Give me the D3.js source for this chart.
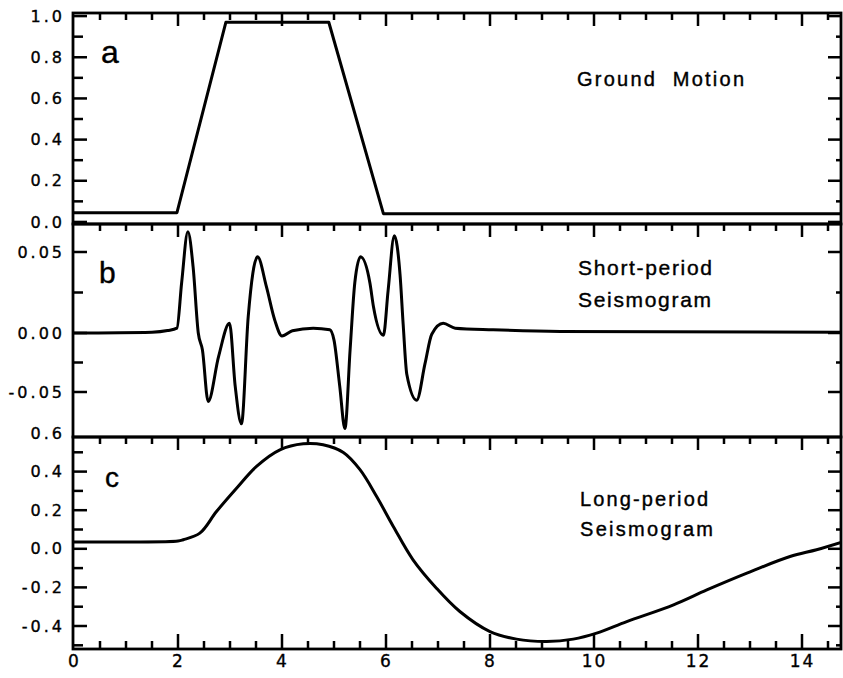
<!DOCTYPE html>
<html>
<head>
<meta charset="utf-8">
<script src="https://cdn.jsdelivr.net/npm/d3@7"></script>
<style>
  body { margin: 0; background: #fff; }
  text { font-family: "DejaVu Sans", sans-serif; fill: #000; }
  .tick text { font-size: 16px; letter-spacing: 3px; stroke: #000; stroke-width: 0.35px; }
  .x-axis .tick text { font-size: 17px; letter-spacing: 2px; }
  .label { font-family: "Liberation Sans", Arial, sans-serif; stroke: #000; stroke-width: 0.4px; }
</style>
</head>
<body>
<div id="chart"></div>
<script>
// panel a: ground motion (trapezoid)
let timeA = [0, 1.98, 2.92, 4.9, 5.95, 14.75];
let groundMotion = [0.045, 0.045, 0.97, 0.97, 0.04, 0.04];

// panel b: short-period seismogram
let timeB = [0, 1.5, 1.8, 1.98, 2.07, 2.19, 2.29, 2.39, 2.47, 2.58, 2.78, 2.99, 3.1, 3.22, 3.35, 3.53,
  3.7, 3.86, 4.0, 4.2, 4.6, 4.92, 5.0, 5.11, 5.21, 5.31, 5.4, 5.51, 5.69, 5.76, 5.95, 6.04, 6.16,
  6.27, 6.33, 6.4, 6.59, 6.75, 6.88, 7.1, 7.33, 8.06, 9.35, 14.75];
let shortPeriod = [0, 0.0005, 0.0015, 0.003, 0.031, 0.0625, 0.041, 0, -0.0144, -0.058, -0.02, 0.006, -0.045, -0.077, 0.01, 0.047,
  0.0286, 0.008, -0.0025, 0.0014, 0.003, 0.002, -0.006, -0.045, -0.081, -0.014, 0.031, 0.047, 0.031, 0.016, -0.002, 0.026, 0.06,
  0.036, 0.0055, -0.035, -0.057, -0.026, -0.001, 0.006, 0.003, 0.002, 0.001, 0.0005];

// panel c: long-period seismogram
let timeC = [0, 1.0, 2.0, 2.1, 2.42, 2.74, 3.13, 3.51, 3.96, 4.41, 4.79, 5.18, 5.5, 5.82, 6.14, 6.52, 6.97, 7.42,
  8.0, 8.51, 9.09, 9.6, 10.05, 10.63, 11.53, 12.17, 12.94, 13.77, 14.28, 14.75];
let longPeriod = [0.035, 0.035, 0.04, 0.047, 0.081, 0.193, 0.315, 0.427, 0.513, 0.544, 0.539, 0.499, 0.41, 0.271, 0.116, -0.057, -0.204, -0.325,
  -0.429, -0.468, -0.48, -0.468, -0.437, -0.377, -0.29, -0.213, -0.126, -0.04, -0.005, 0.033];

// tick values
let xMajor = [0, 2, 4, 6, 8, 10, 12, 14];
let xMinor = [0.5, 1, 1.5, 2.5, 3, 3.5, 4.5, 5, 5.5, 6.5, 7, 7.5, 8.5, 9, 9.5, 10.5, 11, 11.5, 12.5, 13, 13.5, 14.5];
let ticksA = [0, 0.2, 0.4, 0.6, 0.8, 1.0], minorA = [0.1, 0.3, 0.5, 0.7, 0.9];
let ticksB = [-0.05, 0, 0.05], minorB = [-0.025, 0.025];
let ticksC = [-0.4, -0.2, 0, 0.2, 0.4, 0.6], minorC = [-0.5, -0.3, -0.1, 0.1, 0.3, 0.5];

const width = 843, height = 678;

const svg = d3.select("#chart")
  .append("svg")
  .attr("width", width)
  .attr("height", height)
  .attr("viewBox", [0, 0, width, height]);

let x = d3.scaleLinear()
  .domain([0, 14.75])
  .range([74, 841]);

// each panel has its own y scale (b keeps the uneven label spacing of the original)
let yA = d3.scaleLinear().domain([-0.01, 1.015]).range([224, 13]);
let yB = d3.scaleLinear().domain([-0.05, 0, 0.05]).range([392, 333, 252]);
let yC = d3.scaleLinear().domain([-0.4, 0.6]).range([626, 433]);

const hyphen = f => d => d3.format(f)(d).replace("\u2212", "-");

const panels = [
  { top: 13, bottom: 224, y: yA, t: timeA, v: groundMotion, curve: d3.curveLinear, major: ticksA, minor: minorA, fmt: hyphen(".1f"), id: "a" },
  { top: 224, bottom: 437, y: yB, t: timeB, v: shortPeriod, curve: d3.curveMonotoneX, major: ticksB, minor: minorB, fmt: hyphen(".2f"), id: "b" },
  { top: 437, bottom: 649, y: yC, t: timeC, v: longPeriod, curve: d3.curveCatmullRom.alpha(0.5), major: ticksC, minor: minorC, fmt: hyphen(".1f"), id: "c" }
];

const left = x.range()[0] - 1, right = x.range()[1];
const tw = 2.5; // tick thickness

// tick marks along a frame edge, as small filled rects
function hTicks(values, scale, x0, len) {
  svg.append("g").selectAll("rect")
    .data(values)
    .join("rect")
    .attr("fill", "#000")
    .attr("x", Math.min(x0, x0 + len)).attr("width", Math.abs(len))
    .attr("y", d => scale(d) - tw / 2).attr("height", tw);
}
function vTicks(values, y0, len) {
  svg.append("g").selectAll("rect")
    .data(values)
    .join("rect")
    .attr("fill", "#000")
    .attr("y", Math.min(y0, y0 + len)).attr("height", Math.abs(len))
    .attr("x", d => x(d) - tw / 2).attr("width", tw);
}

panels.forEach(p => {
  svg.append("clipPath")
    .attr("id", "clip-" + p.id)
    .append("rect")
    .attr("x", left).attr("y", p.top)
    .attr("width", right - left).attr("height", p.bottom - p.top);

  let line = d3.line()
    .x(d => x(d[0]))
    .y(d => p.y(d[1]))
    .curve(p.curve);

  svg.append("path") // the trace
    .datum(d3.zip(p.t, p.v))
    .attr("clip-path", `url(#clip-${p.id})`)
    .attr("fill", "none")
    .attr("stroke", "#000")
    .attr("stroke-width", 3)
    .attr("stroke-linejoin", "round")
    .attr("d", line);

  let inside = v => v.filter(d => p.y(d) > p.top + 2 && p.y(d) < p.bottom - 2);

  hTicks(inside(p.minor), p.y, left, 10);   // left, inward
  hTicks(inside(p.major), p.y, left, 14);
  hTicks(inside(p.minor), p.y, right, -5);  // right, inward
  hTicks(inside(p.major), p.y, right, -13);
  vTicks(xMinor, p.top, 7);                 // top, hanging down
  vTicks(xMajor.slice(1), p.top, 13);

  // tick labels on the left
  svg.append("g")
    .attr("transform", `translate(${left},0)`)
    .call(d3.axisLeft(p.y).tickValues(p.major).tickSize(0).tickPadding(8).tickFormat(p.fmt))
    .call(g => g.select(".domain").remove());

  svg.append("rect") // frame
    .attr("x", left).attr("y", p.top)
    .attr("width", right - left).attr("height", p.bottom - p.top)
    .attr("fill", "none")
    .attr("stroke", "#000")
    .attr("stroke-width", 2.8);
});

// bottom axis: ticks pointing up, labels below
let bottom = panels[2].bottom;
vTicks(xMinor, bottom, -8);
vTicks(xMajor.slice(1), bottom, -15);
svg.append("g")
  .attr("class", "x-axis")
  .attr("transform", `translate(0,${bottom})`)
  .call(d3.axisBottom(x).tickValues(xMajor).tickSize(0).tickPadding(6).tickFormat(d3.format("d")))
  .call(g => g.select(".domain").remove());

svg.selectAll(".tick text").attr("font-family", null);

// panel letters
svg.append("text").attr("class", "label").attr("x", 101).attr("y", 63).style("font-size", "32px").text("a");
svg.append("text").attr("class", "label").attr("x", 99).attr("y", 283).style("font-size", "30px").text("b");
svg.append("text").attr("class", "label").attr("x", 105).attr("y", 487).style("font-size", "28px").text("c");

// captions
const captions = [
  { x: 577, y: 86, s: "Ground\u00a0\u00a0Motion", w: 167, fs: 20 },
  { x: 578, y: 275, s: "Short-period", w: 134, fs: 21 },
  { x: 578, y: 307, s: "Seismogram", w: 133, fs: 21 },
  { x: 580, y: 506, s: "Long-period", w: 128, fs: 20 },
  { x: 580, y: 536, s: "Seismogram", w: 133, fs: 20 }
];
svg.selectAll(".caption")
  .data(captions)
  .join("text")
  .attr("class", "caption label")
  .attr("x", d => d.x)
  .attr("y", d => d.y)
  .attr("textLength", d => d.w)
  .attr("lengthAdjust", "spacing")
  .style("font-size", d => d.fs + "px")
  .text(d => d.s);
</script>
</body>
</html>
